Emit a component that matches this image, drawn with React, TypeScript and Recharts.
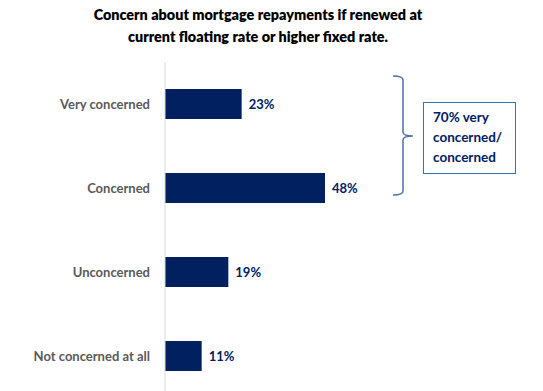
import React from 'react';
import { BarChart, Bar, XAxis, YAxis, LabelList } from 'recharts';

const categories = ['Very concerned', 'Concerned', 'Unconcerned', 'Not concerned at all'];
const values = [23, 48, 19, 11];
const titleLines = ['Concern about mortgage repayments if renewed at', 'current floating rate or higher fixed rate.'];
const calloutLines = ['70% very', 'concerned/', 'concerned'];

const data = categories.map((c, i) => ({ name: c, value: values[i] }));

const FONT = 'Lato, "Open Sans", sans-serif';
const NAVY = '#002060';

export default function App() {
  return (
    <div style={{ position: 'fixed', left: 0, top: 0, width: 543, height: 391, overflow: 'hidden', background: '#fff' }}>
      <svg width={543} height={391} style={{ position: 'absolute', left: 0, top: 0 }}>
        {titleLines.map((t, i) => (
          <text key={i} x={258} y={20 + i * 22} textAnchor="middle" fontFamily={FONT} fontWeight={800} fontSize={14.4} fill="#000">
            {t}
          </text>
        ))}
      </svg>
      <div style={{ position: 'absolute', left: 0, top: 0 }}>
        <BarChart
          width={543}
          height={420}
          data={data}
          layout="vertical"
          margin={{ top: 62, right: 178, bottom: 22, left: 0 }}
          barSize={30}
        >
          <XAxis type="number" domain={[0, 60]} hide />
          <YAxis
            type="category"
            dataKey="name"
            width={165}
            axisLine={{ stroke: '#d9d9d9', strokeWidth: 1 }}
            tickLine={false}
            tickMargin={9}
            tick={{ fill: '#595959', fontFamily: FONT, fontWeight: 700, fontSize: 13 }}
          />
          <Bar dataKey="value" fill={NAVY} isAnimationActive={false}>
            <LabelList
              dataKey="value"
              position="right"
              offset={7}
              formatter={(v: any) => `${v}%`}
              style={{ fill: NAVY, fontFamily: FONT, fontWeight: 700, fontSize: 13 }}
            />
          </Bar>
        </BarChart>
      </div>
      <svg width={543} height={391} style={{ position: 'absolute', left: 0, top: 0, pointerEvents: 'none' }}>
        <path
          d="M393,76 Q403,76 403,80 L403,132 Q403,136 413,136 Q403,136 403,140 L403,191 Q403,195 393,195"
          fill="none"
          stroke="#4f6fa8"
          strokeWidth={1.5}
        />
        <rect x={423.5} y={102.5} width={92} height={71} fill="#fff" stroke="#2e75b6" strokeWidth={1} />
        {calloutLines.map((t, i) => (
          <text key={i} x={433} y={122 + i * 20} fontFamily={FONT} fontWeight={700} fontSize={13.5} fill={NAVY}>
            {t}
          </text>
        ))}
      </svg>
    </div>
  );
}
